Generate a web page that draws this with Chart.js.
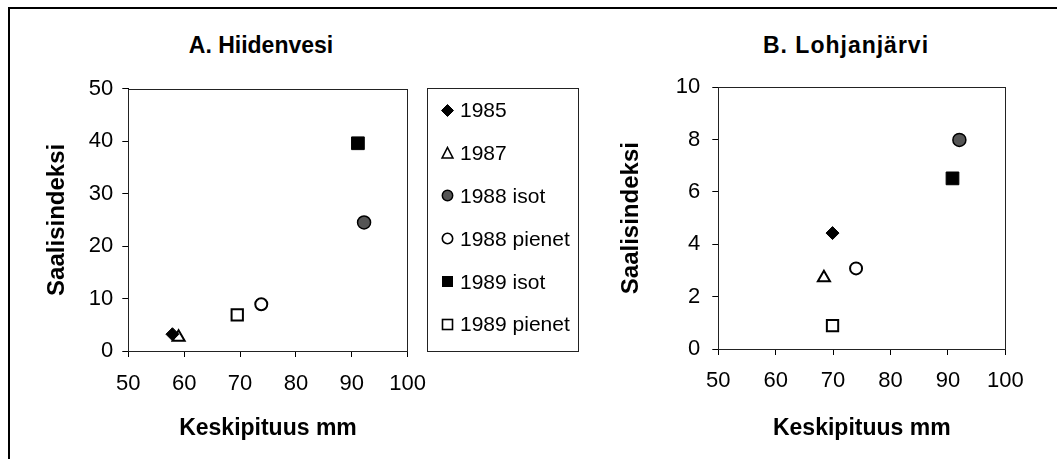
<!DOCTYPE html>
<html>
<head>
<meta charset="utf-8">
<script src="https://cdn.jsdelivr.net/npm/chart.js@4.4.0/dist/chart.umd.min.js"></script>
<style>
  html, body { margin: 0; padding: 0; background: #fff; overflow: hidden; }
  body { width: 1057px; height: 459px; position: relative; font-family: "Liberation Sans", Arial, sans-serif; }
  #frame { position: absolute; left: 8px; top: 7px; width: 1060px; height: 460px;
           border-top: 2px solid #000; border-left: 2px solid #000; }
  .panel { position: absolute; top: 0; height: 459px; }
  .ptitle { position: absolute; top: 31px; font-weight: bold; font-size: 23px; line-height: 28px;
            transform: translateX(-50%); white-space: nowrap; color: #000; }
  #legend { position: absolute; left: 427px; top: 88px; width: 152px; height: 264px;
            border: 1px solid #222; box-sizing: border-box; padding-top: 0px; }
  .row { height: 42.8px; display: flex; align-items: center; font-size: 21px; color: #000; }
  .row svg { margin-left: 12px; margin-right: 5px; }
</style>
</head>
<body>
<div id="frame"></div>
<div class="ptitle" style="left:261px">A. Hiidenvesi</div>
<div class="ptitle" style="left:846px; letter-spacing:1px">B. Lohjanjärvi</div>
<div class="panel" style="left:0; width:440px"><canvas id="chartA" width="440" height="459"></canvas></div>
<div class="panel" style="left:600px; width:457px"><canvas id="chartB" width="457" height="459"></canvas></div>
<div id="legend"></div>
<script>
// series names
const seriesNames = ['1985', '1987', '1988 isot', '1988 pienet', '1989 isot', '1989 pienet'];

// A. Hiidenvesi
const hiidenLength = [57.9, 59.0, 92.2, 73.8, 91.1, 69.5];
const hiidenIndex = [3.2, 2.6, 24.5, 8.9, 39.6, 6.9];

// B. Lohjanjärvi
const lohjaLength = [69.9, 68.4, 92.0, 74.0, 90.8, 69.9];
const lohjaIndex = [4.43, 2.72, 7.99, 3.08, 6.52, 0.89];

// axis ranges / ticks
const xRange = [50, 100];
const xStep = 10;
const yRangeA = [0, 50];
const yStepA = 10;
const yRangeB = [0, 10];
const yStepB = 2;

// marker look for each series
const markers = [
  { style: 'rectRot', r: 6.5, fill: '#000', border: '#000', bw: 1 },
  { style: 'triangle', r: 7, fill: '#fff', border: '#000', bw: 2 },
  { style: 'circle', r: 6.5, fill: '#555', border: '#000', bw: 1.5 },
  { style: 'circle', r: 6, fill: '#fff', border: '#000', bw: 2 },
  { style: 'rect', r: 9, fill: '#000', border: '#000', bw: 1 },
  { style: 'rect', r: 8, fill: '#fff', border: '#000', bw: 2 }
];

const FONT = '"Liberation Sans", Arial, sans-serif';

const plotBox = {
  id: 'plotBox',
  afterDraw(chart) {
    const a = chart.chartArea;
    const ctx = chart.ctx;
    ctx.save();
    ctx.strokeStyle = '#222';
    ctx.lineWidth = 1;
    ctx.strokeRect(Math.round(a.left) + 0.5, Math.round(a.top) + 0.5,
                   Math.round(a.right - a.left), Math.round(a.bottom - a.top));
    ctx.restore();
  }
};

function makeChart(id, xs, ys, yRange, yStep, geo) {
  const datasets = seriesNames.map((name, i) => ({
    label: name,
    data: [{ x: xs[i], y: ys[i] }],
    pointStyle: markers[i].style,
    pointRadius: markers[i].r,
    pointBackgroundColor: markers[i].fill,
    pointBorderColor: markers[i].border,
    pointBorderWidth: markers[i].bw
  }));
  return new Chart(document.getElementById(id), {
    type: 'scatter',
    data: { datasets },
    options: {
      responsive: false,
      animation: false,
      layout: { padding: { top: geo.top, right: geo.right, bottom: 0, left: 0 } },
      plugins: { legend: { display: false }, tooltip: { enabled: false } },
      scales: {
        x: {
          min: xRange[0], max: xRange[1],
          afterFit(s) { s.height = geo.xh; },
          ticks: { stepSize: xStep, color: '#000', padding: geo.xpad, font: { family: FONT, size: 22 } },
          grid: { drawOnChartArea: false, drawTicks: true, tickLength: 6, color: '#000' },
          border: { display: true, color: '#000', width: 1 },
          title: { display: true, text: 'Keskipituus mm', color: '#000',
                   font: { family: FONT, size: 23, weight: 'bold' }, padding: { top: 0, bottom: 17 } }
        },
        y: {
          min: yRange[0], max: yRange[1],
          afterFit(s) { s.width = geo.yw; },
          ticks: { stepSize: yStep, color: '#000', padding: geo.ypad, font: { family: FONT, size: 22 } },
          grid: { drawOnChartArea: false, drawTicks: true, tickLength: 6, color: '#000' },
          border: { display: true, color: '#000', width: 1 },
          title: { display: true, text: 'Saalisindeksi', color: '#000',
                   font: { family: FONT, size: 24, weight: 'bold' }, padding: { top: geo.ytp, bottom: 0 } }
        }
      }
    },
    plugins: [plotBox]
  });
}

makeChart('chartA', hiidenLength, hiidenIndex, yRangeA, yStepA,
  { top: 88.7, right: 30, xh: 108, yw: 128.3, xpad: 14, ypad: 9, ytp: 42.6 });
makeChart('chartB', lohjaLength, lohjaIndex, yRangeB, yStepB,
  { top: 87.3, right: 51.7, xh: 110, yw: 118.3, xpad: 13, ypad: 12, ytp: 16.6 });

// legend box between the panels
function markerSvg(m) {
  const s = 15, c = s / 2;
  const r = m.style === 'rect' ? 5.5 : 6;
  let shape;
  if (m.style === 'rectRot') {
    shape = `<polygon points="${c},${c - r} ${c + r},${c} ${c},${c + r} ${c - r},${c}"/>`;
  } else if (m.style === 'triangle') {
    shape = `<polygon points="${c},${c - r} ${c + r * 0.9},${c + r * 0.75} ${c - r * 0.9},${c + r * 0.75}"/>`;
  } else if (m.style === 'circle') {
    shape = `<circle cx="${c}" cy="${c}" r="${r - 0.8}"/>`;
  } else {
    shape = `<rect x="${c - r + 0.5}" y="${c - r + 0.5}" width="${2 * r - 1}" height="${2 * r - 1}"/>`;
  }
  return `<svg width="${s}" height="${s}" viewBox="0 0 ${s} ${s}"><g fill="${m.fill}" stroke="${m.border}" stroke-width="${Math.min(m.bw, 1.6)}">${shape}</g></svg>`;
}
const legendEl = document.getElementById('legend');
legendEl.innerHTML = seriesNames.map((name, i) =>
  `<div class="row">${markerSvg(markers[i])}<span>${name}</span></div>`).join('');
</script>
</body>
</html>
